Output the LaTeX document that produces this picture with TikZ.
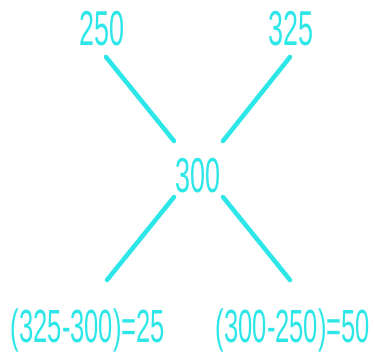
\documentclass[tikz,border=0pt]{standalone}
\usepackage{fontspec}
\setmainfont[FakeStretch=0.55]{Liberation Sans}
\definecolor{cy}{RGB}{45,230,232}
\begin{document}
\begin{tikzpicture}[x=1pt,y=-1pt,
  lbl/.style={text=cy,font=\fontsize{49}{49}\selectfont,inner sep=0pt,anchor=base},
  lbs/.style={lbl,font=\fontsize{46.5}{47}\selectfont},
  ln/.style={draw=cy,line width=4.5pt,line cap=round}]
\useasboundingbox (0,0) rectangle (374,354);
\node[lbl] (a) at (102,45) {250};
\node[lbl] (b) at (291,45) {325};
\node[lbl] (c) at (198,192) {300};
\node[lbs] (d) at (88,342) {(325-300)=25};
\node[lbs] (e) at (293,342) {(300-250)=50};
\coordinate (a1) at (106,57);
\coordinate (a2) at (174,141);
\coordinate (b1) at (290,57);
\coordinate (b2) at (223,141);
\coordinate (d1) at (174,197);
\coordinate (d2) at (107,280);
\coordinate (e1) at (223,197);
\coordinate (e2) at (290,280);
\draw[ln] (a1) -- (a2);
\draw[ln] (b1) -- (b2);
\draw[ln] (d1) -- (d2);
\draw[ln] (e1) -- (e2);
\end{tikzpicture}
\end{document}
